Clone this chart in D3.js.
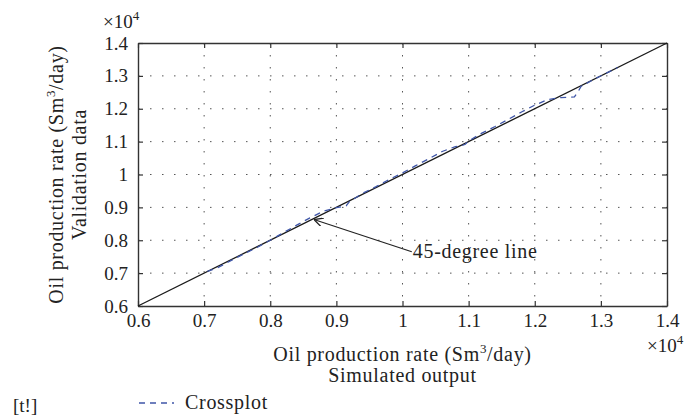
<!DOCTYPE html>
<html>
<head>
<meta charset="utf-8">
<script src="https://cdn.jsdelivr.net/npm/d3@7"></script>
<style>
  body { margin: 0; background: #fff; }
  text { font-family: "Liberation Serif", "DejaVu Serif", serif; fill: #222; }
  .lbl { font-size: 20px; letter-spacing: 0.7px; }
</style>
</head>
<body>
<div id="graph"></div>
<script>
// values in units of 1e4 Sm3/day
const ticks = [0.6, 0.7, 0.8, 0.9, 1, 1.1, 1.2, 1.3, 1.4];
const diagX = [0.6, 1.4];
const crossX = [0.705, 0.72, 0.75, 0.78, 0.80, 0.82, 0.84, 0.86, 0.88, 0.90, 0.915, 0.92, 0.94, 0.96, 0.98, 1.0,
  1.02, 1.04, 1.06, 1.08, 1.09, 1.095, 1.10, 1.12, 1.14, 1.16, 1.18, 1.20, 1.22, 1.24, 1.26, 1.265, 1.27, 1.29, 1.31, 1.325];
const crossY = [0.705, 0.716, 0.748, 0.778, 0.80, 0.823, 0.846, 0.868, 0.888, 0.899, 0.905, 0.918, 0.943, 0.963, 0.985, 1.005,
  1.027, 1.048, 1.070, 1.085, 1.088, 1.092, 1.102, 1.126, 1.146, 1.168, 1.190, 1.211, 1.228, 1.234, 1.236, 1.25, 1.268, 1.29, 1.31, 1.325];
const arrowTip = [0.866, 0.863];
const arrowTail = [1.014, 0.765];

const margin = {top: 43, right: 21, bottom: 113, left: 138};
const width = 688 - margin.left - margin.right;
const height = 419 - margin.top - margin.bottom;
const fs = '19px';
const sup = '13px';

const x = d3.scaleLinear().domain([0.6, 1.4]).range([0, width]);
const y = d3.scaleLinear().domain([0.6, 1.4]).range([height, 0]);

const svg = d3.select('#graph').append('svg')
  .attr('width', 688)
  .attr('height', 419);

svg.append('defs').append('marker')
  .attr('id', 'arr')
  .attr('viewBox', '0 0 10 10')
  .attr('refX', 10).attr('refY', 5)
  .attr('markerWidth', 9).attr('markerHeight', 9)
  .attr('markerUnits', 'userSpaceOnUse')
  .attr('orient', 'auto')
  .append('path')
  .attr('d', 'M0,0L10,5L0,10')
  .attr('fill', 'none')
  .attr('stroke', '#222')
  .attr('stroke-width', 1.4);

const g = svg.append('g')
  .attr('transform', 'translate(' + margin.left + ',' + margin.top + ')');

// grid
const inner = ticks.slice(1, -1);
g.selectAll('.vgrid').data(inner).enter().append('line')
  .attr('x1', d => x(d)).attr('x2', d => x(d))
  .attr('y1', 0).attr('y2', height)
  .attr('stroke', '#555').attr('stroke-width', 1)
  .attr('stroke-dasharray', '1.5,10.5');
g.selectAll('.hgrid').data(inner).enter().append('line')
  .attr('y1', d => y(d)).attr('y2', d => y(d))
  .attr('x1', 0).attr('x2', width)
  .attr('stroke', '#555').attr('stroke-width', 1)
  .attr('stroke-dasharray', '1.5,10.5');

// axes
const fmt = d => (d === 1 ? '1' : d3.format('.1f')(d));
const styleAxis = sel => {
  sel.select('.domain').attr('stroke', '#333').attr('stroke-width', 1.4);
  sel.selectAll('.tick line').attr('stroke', '#333').attr('stroke-width', 1.2);
  sel.selectAll('text').style('font-size', fs).attr('fill', '#222');
};

g.append('g')
  .attr('transform', 'translate(0,' + height + ')')
  .call(d3.axisBottom(x).tickValues(ticks).tickFormat(fmt).tickSizeInner(-5).tickSizeOuter(0).tickPadding(8))
  .call(styleAxis);
g.append('g')
  .call(d3.axisLeft(y).tickValues(ticks).tickFormat(fmt).tickSizeInner(-5).tickSizeOuter(0).tickPadding(10))
  .call(styleAxis);
g.append('g')
  .call(d3.axisTop(x).tickValues(ticks).tickFormat('').tickSizeInner(-5).tickSizeOuter(0))
  .call(styleAxis);
g.append('g')
  .attr('transform', 'translate(' + width + ',0)')
  .call(d3.axisRight(y).tickValues(ticks).tickFormat('').tickSizeInner(-5).tickSizeOuter(0))
  .call(styleAxis);

// 45-degree line
const line = d3.line().x(d => x(d[0])).y(d => y(d[1]));
g.append('path')
  .attr('d', line(diagX.map(v => [v, v])))
  .attr('fill', 'none').attr('stroke', '#1a1a1a').attr('stroke-width', 1.3);

// crossplot
g.append('path')
  .attr('d', line(crossX.map((v, i) => [v, crossY[i]])))
  .attr('fill', 'none').attr('stroke', '#3f56a8').attr('stroke-width', 1.3)
  .attr('stroke-dasharray', '6,5');

// annotation
g.append('line')
  .attr('x1', x(arrowTail[0])).attr('y1', y(arrowTail[1]))
  .attr('x2', x(arrowTip[0])).attr('y2', y(arrowTip[1]))
  .attr('stroke', '#222').attr('stroke-width', 1.2)
  .attr('marker-end', 'url(#arr)');
g.append('text')
  .attr('class', 'lbl')
  .attr('x', x(arrowTail[0]) + 1).attr('y', y(arrowTail[1]) + 6)
  .text('45-degree line');

// exponent labels
const expo = (xx, yy) => {
  const t = svg.append('text').attr('x', xx).attr('y', yy).style('font-size', fs);
  t.append('tspan').text('\u00d710');
  t.append('tspan').attr('dy', -8).style('font-size', sup).text('4');
};
expo(103, 28);
expo(647, 352);

// axis titles
const xt = svg.append('text')
  .attr('class', 'lbl')
  .attr('text-anchor', 'middle');
xt.append('tspan').attr('x', margin.left + width / 2).attr('y', 361).text('Oil production rate (Sm');
xt.append('tspan').attr('dy', -8).style('font-size', sup).text('3');
xt.append('tspan').attr('dy', 8).text('/day)');
svg.append('text')
  .attr('class', 'lbl')
  .attr('x', margin.left + width / 2).attr('y', 382)
  .attr('text-anchor', 'middle')
  .text('Simulated output');

const cy = margin.top + height / 2;
const yt = svg.append('text')
  .attr('class', 'lbl')
  .attr('transform', 'translate(63,' + cy + ') rotate(-90)')
  .attr('text-anchor', 'middle');
yt.append('tspan').attr('x', 0).attr('y', 0).text('Oil production rate (Sm');
yt.append('tspan').attr('dy', -8).style('font-size', sup).text('3');
yt.append('tspan').attr('dy', 8).text('/day)');
svg.append('text')
  .attr('class', 'lbl')
  .attr('transform', 'translate(86,' + cy + ') rotate(-90)')
  .attr('text-anchor', 'middle')
  .text('Validation data');

// legend
svg.append('text').attr('x', 13).attr('y', 412).style('font-size', fs).text('[t!]');
svg.append('line')
  .attr('x1', 139).attr('x2', 174).attr('y1', 403).attr('y2', 403)
  .attr('stroke', '#3f56a8').attr('stroke-width', 1.3)
  .attr('stroke-dasharray', '6,5');
svg.append('text').attr('class', 'lbl').attr('x', 185).attr('y', 409).text('Crossplot');
</script>
</body>
</html>
